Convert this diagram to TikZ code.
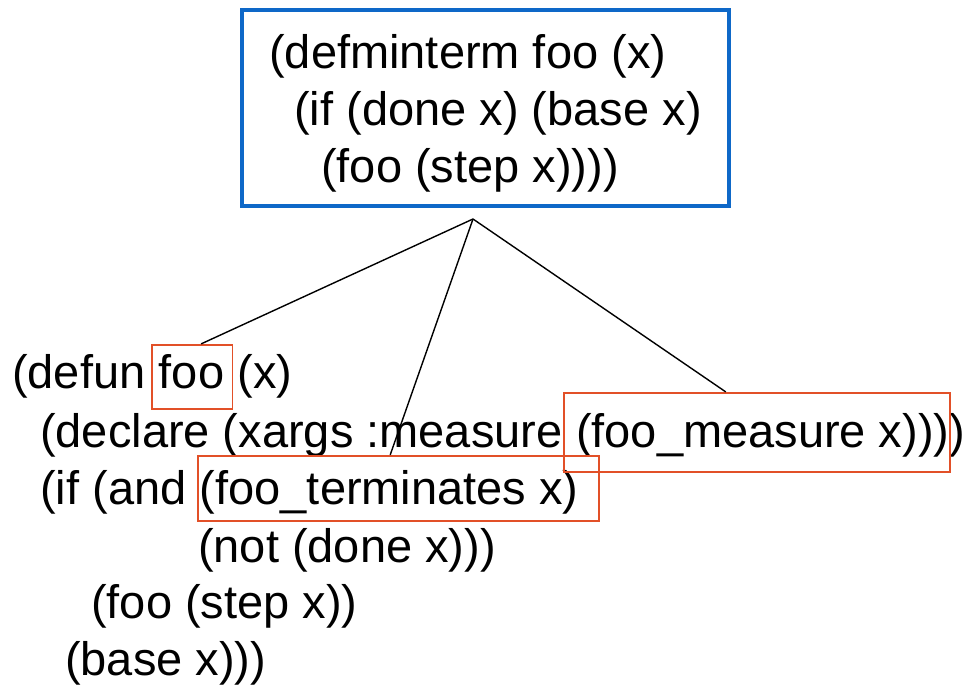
\documentclass[tikz,border=0pt]{standalone}
\usepackage{fontspec}
\usepackage{xcolor}
\newfontfamily\codefont{Liberation Sans}
\usetikzlibrary{positioning,fit,calc}

\definecolor{boxblue}{RGB}{14,104,200}
\definecolor{markred}{RGB}{226,80,40}

\tikzset{
  code/.style={font={\codefont\fontsize{47}{57}\selectfont}, inner sep=0pt,
    text height=34pt, text depth=10pt},
  defbox/.style={draw=boxblue, line width=4pt, inner sep=0pt, align=left,
    minimum width=487pt, minimum height=196pt,
    font={\codefont\fontsize{47}{57}\selectfont}},
  hlbox/.style={draw=markred, line width=1.8pt, inner sep=0pt},
  link/.style={draw=black, line width=1.4pt}
}

\begin{document}
\begin{tikzpicture}[x=1pt, y=1pt]
	\useasboundingbox (0,0) rectangle (969,-687);

	% the minterm
	\node[defbox] (defmin) at (485.5,-108)
	  {\rule{0pt}{44pt}(defminterm foo (x)\\
	   \hspace*{25pt}(if (done x) (base x)\\
	   \hspace*{52pt}(foo (step x))))};

	% the generated defun, line by line
	\node[code, anchor=base west] (defun) at (12,-388) {(defun};
	\node[code, base right=13pt of defun] (fname) {foo};
	\node[code, base right=13pt of fname] (args) {(x)};

	\node[code, anchor=base west] (declare) at (40,-447) {(declare (xargs :measure};
	\node[code, base right=13pt of declare] (measure) {(foo\_measure x)))};
	\node[code, base right=0pt of measure] (closing) {)};

	\node[code, anchor=base west] (ifand) at (40,-504) {(if (and};
	\node[code, base right=13pt of ifand] (term) {(foo\_terminates x)};

	\node[code, anchor=base west] (notdone) at (198,-562) {(not (done x)))};
	\node[code, anchor=base west] (recur) at (91,-618) {(foo (step x))};
	\node[code, anchor=base west] (base) at (65,-675) {(base x)))};

	% highlighted pieces
	\node[hlbox, fit={([xshift=-7pt,yshift=-11pt]fname.south west) ([xshift=8pt,yshift=9pt]fname.north east)}] (namebox) {};
	\node[hlbox, fit={([xshift=-12pt,yshift=-15pt]measure.south west) ([xshift=0pt,yshift=20pt]measure.north east)}] (measbox) {};
	\node[hlbox, fit={([xshift=-2pt,yshift=-7pt]term.south west) ([xshift=20pt,yshift=14pt]term.north east)}] (termbox) {};

	% connectors
	\coordinate (apex) at ($(defmin.south)+(-12.5,-11)$);
	\draw[link] (apex) -- ($(namebox.north west)!0.61!(namebox.north east)$);
	\draw[link] (apex) -- ($(termbox.north west)!0.48!(termbox.north east)$);
	\draw[link] (apex) -- ($(measbox.north west)!0.42!(measbox.north east)$);
\end{tikzpicture}
\end{document}
